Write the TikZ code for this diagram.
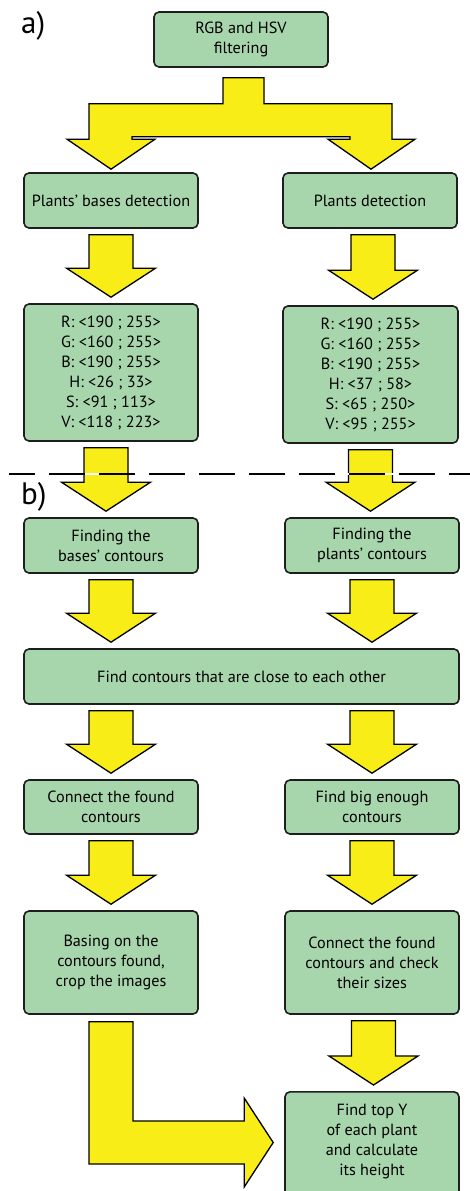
\documentclass[tikz,border=0pt]{standalone}
\usepackage{fontspec}
\setmainfont{PT Sans}
\usetikzlibrary{calc}
\definecolor{boxgreen}{RGB}{168,214,172}
\definecolor{arrowyellow}{RGB}{248,237,22}
\definecolor{inkdark}{RGB}{30,30,30}
\tikzset{
  box/.style={draw=inkdark, line width=1.6pt, fill=boxgreen, rounded corners=5pt,
    minimum width=174pt, minimum height=55pt, align=center, inner sep=0pt,
    font=\fontsize{16.2}{20}\selectfont},
  boxtext/.style={align=center, inner sep=0pt, font=\fontsize{16.2}{20}\selectfont},
  blockarrow/.style={draw=black, line width=1.3pt, fill=arrowyellow, line join=miter},
  panel/.style={font=\fontsize{31}{32}\selectfont, anchor=base west, inner sep=0pt},
}
% straight block arrow: #1 x shift, #2 start point, #3 end point (x taken from #2)
\newcommand\downarr[3][0pt]{%
  \draw[blockarrow] let \p1=#2, \p2=#3, \n1={\x1+#1}, \n2={\y1-6pt}, \n3={\y2+6pt}, \n4={\y2+35pt} in
   (\n1-22pt,\n2) -- (\n1+22pt,\n2) -- (\n1+22pt,\n4) -- (\n1+44.5pt,\n4) -- (\n1,\n3)
   -- (\n1-44.5pt,\n4) -- (\n1-22pt,\n4) -- cycle;}
\begin{document}
\begin{tikzpicture}[x=1pt,y=1pt]
\useasboundingbox (0,0) rectangle (470,-1191);

% panel labels
\node[panel] (pa) at (21,-33) {a)};
\node[panel] (pb) at (21,-504) {b)};

% boxes
\node[box] (top) at (241,-39.5) {RGB and HSV\\filtering};
\node[box] (pbd) at (111,-200.5) {Plants’ bases detection};
\node[box] (pd) at (370,-200.5) {Plants detection};
\node[box, minimum height=137pt] (rgbL) at (111,-372.5)
  {R: <190 ; 255>\\G: <160 ; 255>\\B: <190 ; 255>\\H: <26 ; 33>\\S: <91 ; 113>\\V: <118 ; 223>};
\node[box, minimum height=137pt, minimum width=175pt] (rgbR) at (370.5,-374.5)
  {R: <190 ; 255>\\G: <160 ; 255>\\B: <190 ; 255>\\H: <37 ; 58>\\S: <65 ; 250>\\V: <95 ; 255>};
\node[box] (fbc) at (111,-545.5) {Finding the\\bases’ contours};
\node[box] (fpc) at (372,-545.5) {Finding the\\plants’ contours};
\node[box, minimum width=435pt] (close) at (241.5,-676.5) {Find contours that are close to each other};
\node[box, minimum height=54pt] (conn) at (111,-807) {Connect the found\\contours};
\node[box, minimum height=54pt] (big) at (372,-807) {Find big enough\\contours};
\node[box, minimum height=103pt] (crop) at (111,-962.5) {Basing on the\\contours found,\\crop the images};
\node[box, minimum height=103pt] (check) at (372,-962.5) {Connect the found\\contours and check\\their sizes};
\node[box, minimum height=115pt, anchor=north] (final) at (372,-1091) {};
\node[boxtext] (finaltext) at (372,-1141) {Find top Y\\of each plant\\and calculate\\its height};

% split arrow from the top box
\draw[blockarrow] let \p1=(top.south), \p2=(pbd.north), \p3=(pd.north) in
  (\x1-18pt,\y1-10pt) -- (\x1+23pt,\y1-10pt) -- (\x1+23pt,\y1-36pt)
  -- (\x3+22pt,\y1-36pt) -- (\x3+22pt,\y2+33pt) -- (\x3+45pt,\y2+33pt) -- (\x3+1pt,\y2+3pt)
  -- (\x3-42pt,\y2+33pt) -- (\x3-20pt,\y2+33pt) -- (\x3-20pt,\y1-69pt)
  -- (\x2+21pt,\y1-69pt) -- (\x2+21pt,\y2+33pt) -- (\x2+44pt,\y2+33pt) -- (\x2,\y2+3pt)
  -- (\x2-44pt,\y2+33pt) -- (\x2-22pt,\y2+33pt) -- (\x2-22pt,\y1-36pt)
  -- (\x1-18pt,\y1-36pt) -- cycle;

% straight arrows
\downarr{(pbd.south)}{(rgbL.north)}
\downarr[3pt]{(pd.south)}{(rgbR.north)}
\downarr[-5pt]{(rgbL.south)}{(fbc.north)}
\downarr{(rgbR.south)}{(fpc.north)}
\downarr{(fbc.south)}{(fbc.south |- close.north)}
\downarr{(fpc.south)}{(fpc.south |- close.north)}
\downarr{(close.south -| conn)}{(conn.north)}
\downarr{(close.south -| big)}{(big.north)}
\downarr{(conn.south)}{(crop.north)}
\downarr{(big.south)}{(check.north)}
\downarr[1.5pt]{(check.south)}{(final.north)}

% L-shaped arrow
\draw[blockarrow] let \p1=(crop.south), \p2=(final.north west), \n1={\y2-51.5pt} in
  (\x1-22pt,\y1-7pt) -- (\x1+22pt,\y1-7pt) -- (\x1+22pt,\n1+21.5pt)
  -- (\x2-40pt,\n1+21.5pt) -- (\x2-40pt,\n1+44.5pt) -- (\x2-11pt,\n1)
  -- (\x2-40pt,\n1-44.5pt) -- (\x2-40pt,\n1-21.5pt) -- (\x1-22pt,\n1-21.5pt) -- cycle;

% section separator
\coordinate (sepL) at (9,-474);
\coordinate (sepR) at (470,-474);
\draw[white, line width=1.3pt] (sepL) -- (sepR);
\draw[black, line width=1.3pt, dash pattern=on 36pt off 14pt, dash phase=9.7pt] (sepL) -- (sepR);
\end{tikzpicture}
\end{document}
